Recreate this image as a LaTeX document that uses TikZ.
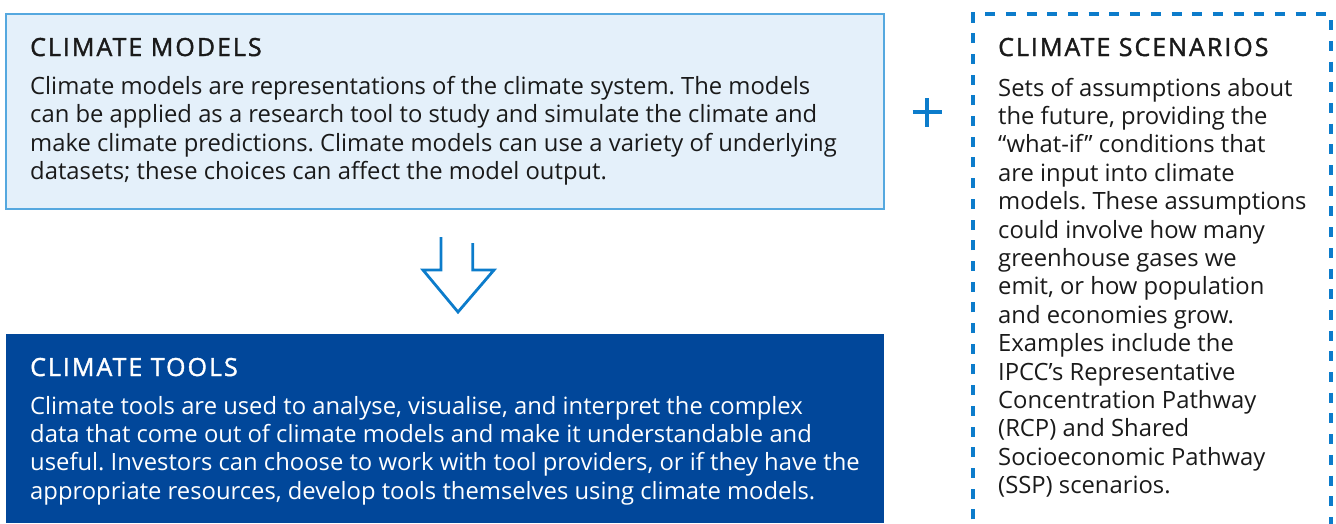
\documentclass[tikz,border=0pt]{standalone}
\usepackage{fontspec}
\setmainfont{Open Sans}
\newfontfamily\headfont[FakeBold=1.5, LetterSpace=8]{Open Sans}
\begin{document}
\frenchspacing
\definecolor{lightfill}{HTML}{E4F0FA}
\definecolor{lightedge}{HTML}{55A8DF}
\definecolor{darkfill}{HTML}{01479A}
\definecolor{accent}{HTML}{0C7CCB}
\definecolor{ink}{HTML}{1A1A1A}
\tikzset{
  panel/.style={inner sep=0pt, anchor=base west},
  bodytext/.style={panel, font=\fontsize{23.8}{28.4}\selectfont},
  headtext/.style={panel, font=\headfont\fontsize{25}{28.4}\selectfont},
  outline arrow/.style={draw=accent, line width=2.8pt, line join=miter},
}
\begin{tikzpicture}[x=1pt,y=-1pt]
\useasboundingbox (0,0) rectangle (1336,523);
% climate models panel
\draw[fill=lightfill, draw=lightedge, line width=1.5pt] (6,14) rectangle (884,209);
\node[headtext, text=ink] (mhead) at (30,56) {CLIMATE MODELS};
\node[bodytext, text=ink] (mbody) at (30,94.5) {\parbox[t]{840pt}{\raggedright
Climate models are representations of the climate system. The models\\
can be applied as a research tool to study and simulate the climate and\\
make climate predictions. Climate models can use a variety of underlying\\
datasets; these choices can affect the model output.}};
% downward outline arrow
\draw[outline arrow] (441,237) -- (441,270) -- (423,270) -- (458,312) -- (494,270) -- (472.7,270) -- (472.7,243);
% climate tools panel
\fill[darkfill] (6,334) rectangle (884,523);
\node[headtext, text=white] (thead) at (30,376) {CLIMATE TOOLS};
\node[bodytext, text=white] (tbody) at (30,414) {\parbox[t]{850pt}{\raggedright
Climate tools are used to analyse, visualise, and interpret the complex\\
data that come out of climate models and make it understandable and\\
useful. Investors can choose to work with tool providers, or if they have the\\
appropriate resources, develop tools themselves using climate models.}};
% plus sign
\coordinate (plus) at (927,112);
\draw[accent, line width=3.4pt] ([xshift=-14.5pt]plus) -- ([xshift=14.5pt]plus)
  ([yshift=-14.5pt]plus) -- ([yshift=14.5pt]plus);
% climate scenarios panel (dashed, open at the bottom)
\draw[accent, line width=3.2pt, dash pattern=on 10pt off 10.7pt]
  (973,540) -- (973,14) -- (1331,14) -- (1331,540);
\node[headtext, text=ink] (shead) at (998,56) {CLIMATE SCENARIOS};
\node[bodytext, text=ink] (sbody) at (998,96) {\parbox[t]{330pt}{\raggedright
Sets of assumptions about\\
the future, providing the\\
“what-if” conditions that\\
are input into climate\\
models. These assumptions\\
could involve how many\\
greenhouse gases we\\
emit, or how population\\
and economies grow.\\
Examples include the\\
IPCC’s Representative\\
Concentration Pathway\\
(RCP) and Shared\\
Socioeconomic Pathway\\
(SSP) scenarios.}};
\end{tikzpicture}
\end{document}
